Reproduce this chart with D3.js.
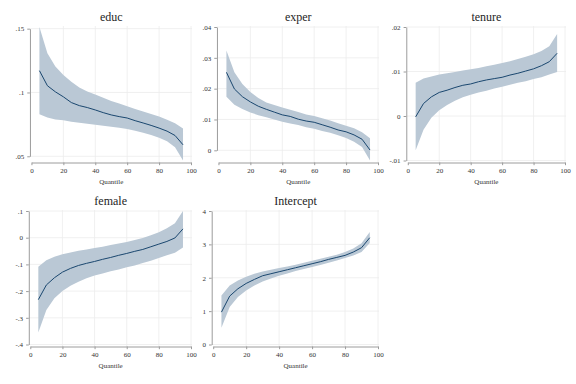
<!DOCTYPE html>
<html>
<head>
<meta charset="utf-8">
<script src="https://cdn.jsdelivr.net/npm/d3@7"></script>
<title>Quantile regression coefficients</title>
<style>
body {
	margin: 0;
	background: white;
}
text {
	font-family: "Liberation Serif", "DejaVu Serif", serif;
}
.axis path, .axis line {
	stroke: #9c9c9c;
	stroke-width: 1;
}
.axis text {
	fill: #333;
	font-size: 7px;
}
.grid line {
	stroke: #ececec;
	stroke-width: 0.8;
}
</style>
</head>
<body>
<div id="chart"></div>
<script>

// -- data

var quantiles = [5, 10, 15, 20, 25, 30, 35, 40, 45, 50, 55, 60, 65, 70, 75, 80, 85, 90, 95];
var xTicks = [0, 20, 40, 60, 80, 100];

var educCoef = [0.1171, 0.1053, 0.1005, 0.0966, 0.0921, 0.0897, 0.0882, 0.0863, 0.0842, 0.0824,
	0.0811, 0.0800, 0.0779, 0.0761, 0.0742, 0.0721, 0.0697, 0.0663, 0.0590];
var educHi = [0.1513, 0.1308, 0.1203, 0.1137, 0.1084, 0.1039, 0.1008, 0.0984, 0.0958, 0.0934,
	0.0913, 0.0892, 0.0871, 0.0850, 0.0832, 0.0811, 0.0787, 0.0758, 0.0718];
var educLo = [0.0830, 0.0803, 0.0789, 0.0782, 0.0771, 0.0763, 0.0755, 0.0747, 0.0739, 0.0732,
	0.0724, 0.0713, 0.0700, 0.0684, 0.0666, 0.0645, 0.0618, 0.0571, 0.0467];
var educTicks = [0.05, 0.1, 0.15];
var educLabels = [".05", ".1", ".15"];

var experCoef = [0.0253, 0.0199, 0.0174, 0.0157, 0.0143, 0.0133, 0.0124, 0.0115, 0.0110, 0.0101,
	0.0095, 0.0091, 0.0083, 0.0075, 0.0066, 0.0060, 0.0050, 0.0036, 0.0001];
var experHi = [0.0324, 0.0253, 0.0215, 0.0189, 0.0170, 0.0155, 0.0147, 0.0139, 0.0132, 0.0124,
	0.0116, 0.0111, 0.0104, 0.0097, 0.0088, 0.0080, 0.0072, 0.0059, 0.0039];
var experLo = [0.0174, 0.0148, 0.0134, 0.0123, 0.0114, 0.0107, 0.0100, 0.0093, 0.0087, 0.0082,
	0.0075, 0.0070, 0.0063, 0.0057, 0.0049, 0.0040, 0.0028, 0.0011, -0.0033];
var experTicks = [0, 0.01, 0.02, 0.03, 0.04];
var experLabels = ["0", ".01", ".02", ".03", ".04"];

var tenureCoef = [-0.0002, 0.0028, 0.0043, 0.0053, 0.0058, 0.0064, 0.0069, 0.0072, 0.0077, 0.0081,
	0.0084, 0.0087, 0.0092, 0.0096, 0.0101, 0.0106, 0.0113, 0.0122, 0.0141];
var tenureHi = [0.0075, 0.0084, 0.0089, 0.0093, 0.0096, 0.0099, 0.0102, 0.0105, 0.0108, 0.0112,
	0.0115, 0.0119, 0.0123, 0.0128, 0.0133, 0.0139, 0.0146, 0.0157, 0.0184];
var tenureLo = [-0.0077, -0.0031, -0.0004, 0.0013, 0.0025, 0.0034, 0.0042, 0.0048, 0.0053, 0.0057,
	0.0062, 0.0066, 0.0070, 0.0075, 0.0078, 0.0083, 0.0087, 0.0093, 0.0099];
var tenureTicks = [-0.01, 0, 0.01, 0.02];
var tenureLabels = ["-.01", "0", ".01", ".02"];

var femaleCoef = [-0.232, -0.177, -0.150, -0.129, -0.115, -0.104, -0.096, -0.089, -0.081, -0.074,
	-0.066, -0.059, -0.051, -0.044, -0.034, -0.024, -0.014, -0.001, 0.033];
var femaleHi = [-0.109, -0.084, -0.071, -0.062, -0.055, -0.049, -0.044, -0.039, -0.034, -0.027,
	-0.022, -0.016, -0.009, -0.001, 0.009, 0.020, 0.035, 0.054, 0.100];
var femaleLo = [-0.355, -0.271, -0.227, -0.200, -0.180, -0.165, -0.152, -0.142, -0.134, -0.126,
	-0.119, -0.111, -0.104, -0.095, -0.086, -0.076, -0.066, -0.056, -0.037];
var femaleTicks = [-0.4, -0.3, -0.2, -0.1, 0, 0.1];
var femaleLabels = ["-.4", "-.3", "-.2", "-.1", "0", ".1"];

var interceptCoef = [0.97, 1.45, 1.67, 1.83, 1.95, 2.06, 2.12, 2.18, 2.24, 2.30,
	2.36, 2.42, 2.48, 2.55, 2.61, 2.67, 2.77, 2.90, 3.20];
var interceptHi = [1.47, 1.77, 1.92, 2.03, 2.12, 2.19, 2.24, 2.29, 2.34, 2.39,
	2.45, 2.51, 2.57, 2.63, 2.69, 2.77, 2.88, 3.03, 3.37];
var interceptLo = [0.50, 1.12, 1.42, 1.62, 1.77, 1.89, 1.98, 2.06, 2.13, 2.20,
	2.26, 2.32, 2.38, 2.45, 2.52, 2.59, 2.67, 2.77, 3.04];
var interceptTicks = [0, 1, 2, 3, 4];
var interceptLabels = ["0", "1", "2", "3", "4"];

var panels = [
	{ title: "educ", coef: educCoef, lo: educLo, hi: educHi, ticks: educTicks, labels: educLabels, col: 0, row: 0 },
	{ title: "exper", coef: experCoef, lo: experLo, hi: experHi, ticks: experTicks, labels: experLabels, col: 1, row: 0 },
	{ title: "tenure", coef: tenureCoef, lo: tenureLo, hi: tenureHi, ticks: tenureTicks, labels: tenureLabels, col: 2, row: 0 },
	{ title: "female", coef: femaleCoef, lo: femaleLo, hi: femaleHi, ticks: femaleTicks, labels: femaleLabels, col: 0, row: 1 },
	{ title: "Intercept", coef: interceptCoef, lo: interceptLo, hi: interceptHi, ticks: interceptTicks, labels: interceptLabels, col: 1, row: 1 },
];

// -- layout

const bandColor = "#bac8d5";
const lineColor = "#1a476f";
const colX = [0, 187, 374];
const rowY = [27, 211];
const plotH = 133.5;
const axisGap = 2;
const tickLen = 2.7;

var svg = d3.select("#chart")
	.append("svg")
		.attr("width", 576)
		.attr("height", 384);

function drawPanel(p) {
	var g = svg.append("g");

	// measure widest y label so the plot starts right after it
	var probe = g.append("g").attr("class", "axis").selectAll("text")
		.data(p.labels).enter().append("text").text(d => d);
	var maxW = d3.max(probe.nodes(), n => n.getComputedTextLength());
	g.selectAll("g").remove();

	var x0 = colX[p.col], top = rowY[p.row];
	var left = x0 + 15.5 + maxW + tickLen + 3 + 1.5;
	var right = x0 + 191;
	var bottom = top + plotH;
	var axisY = bottom + axisGap;
	var yAxisX = left - 1.5;

	var yMin = Math.min(d3.min(p.lo), d3.min(p.ticks));
	var yMax = Math.max(d3.max(p.hi), d3.max(p.ticks));

	var x = d3.scaleLinear().domain([0, 100]).range([left, right]);
	var y = d3.scaleLinear().domain([yMin, yMax]).range([bottom, top]);

	// grid
	var grid = g.append("g").attr("class", "grid");
	grid.selectAll(".hg").data(p.ticks).enter().append("line")
		.attr("x1", yAxisX).attr("x2", right + 1)
		.attr("y1", d => y(d)).attr("y2", d => y(d));
	grid.selectAll(".vg").data(xTicks.slice(1)).enter().append("line")
		.attr("x1", d => x(d)).attr("x2", d => x(d))
		.attr("y1", top - 1).attr("y2", axisY);

	// band and line
	var area = d3.area()
		.x((d, i) => x(quantiles[i]))
		.y0((d, i) => y(p.lo[i]))
		.y1((d, i) => y(p.hi[i]));
	g.append("path")
		.attr("d", area(quantiles))
		.attr("fill", bandColor);

	var line = d3.line()
		.x((d, i) => x(quantiles[i]))
		.y(d => y(d));
	g.append("path")
		.attr("d", line(p.coef))
		.attr("fill", "none")
		.attr("stroke", lineColor)
		.attr("stroke-width", 1);

	// y axis only spans the tick range
	var yAx = y.copy()
		.domain(d3.extent(p.ticks))
		.range([y(d3.min(p.ticks)), y(d3.max(p.ticks))]);
	g.append("g")
		.attr("class", "axis")
		.attr("transform", "translate(" + yAxisX + ",0)")
		.call(d3.axisLeft(yAx)
			.tickValues(p.ticks)
			.tickFormat((d, i) => p.labels[i])
			.tickSize(tickLen)
			.tickSizeOuter(0)
			.tickPadding(3));

	g.append("g")
		.attr("class", "axis")
		.attr("transform", "translate(0," + axisY + ")")
		.call(d3.axisBottom(x)
			.tickValues(xTicks)
			.tickSize(tickLen)
			.tickSizeOuter(0)
			.tickPadding(2.5));

	g.selectAll(".axis path").attr("fill", "none");

	// titles
	g.append("text")
		.attr("x", (left + right) / 2)
		.attr("y", top - 6.5)
		.attr("text-anchor", "middle")
		.style("font-size", "12px")
		.style("fill", "#1e1e1e")
		.text(p.title);

	g.append("text")
		.attr("x", (left + right) / 2)
		.attr("y", axisY + 21)
		.attr("text-anchor", "middle")
		.style("font-size", "7px")
		.style("fill", "#333")
		.text("Quantile");
}

panels.forEach(drawPanel);
</script>
</body>
</html>
